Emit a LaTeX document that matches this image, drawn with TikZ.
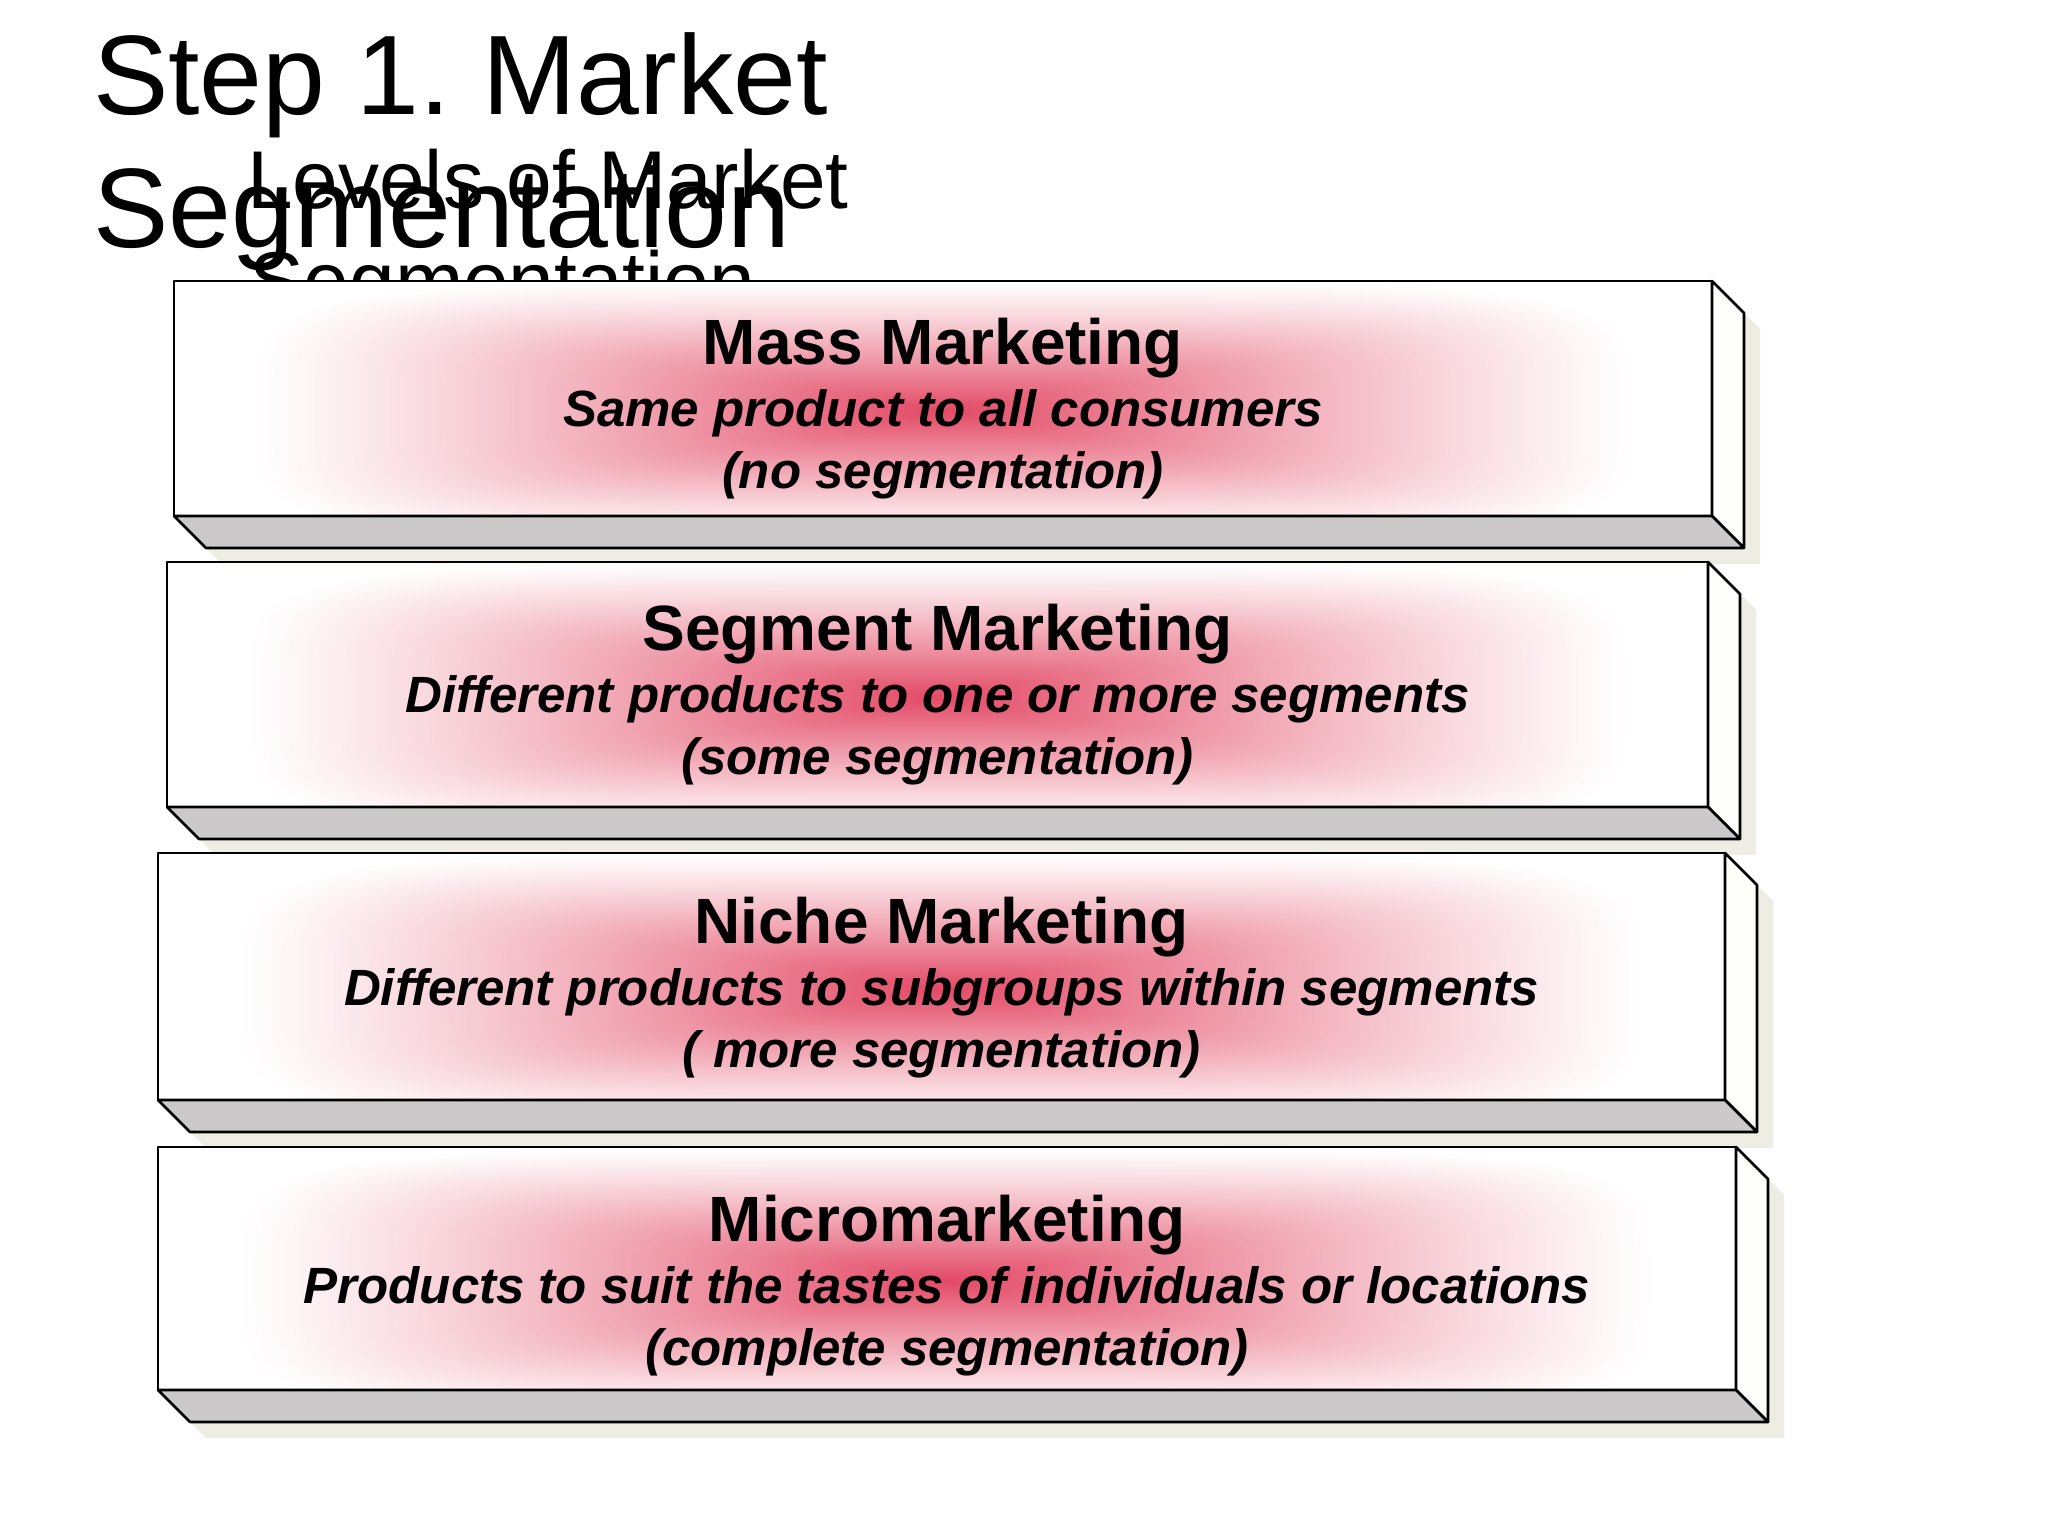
\documentclass[tikz,border=0pt]{standalone}
\usepackage{fontspec}
\setmainfont{Liberation Sans}
\usetikzlibrary{calc}

\definecolor{shadowgray}{HTML}{EDEDE4}
\definecolor{floorgray}{HTML}{CBC9CA}
\definecolor{wallcream}{HTML}{FEFEFA}

% rectangular glow from the centre of a box (softened corners of the glow)
\pgfdeclarefunctionalshading{redglow}{\pgfpoint{-50bp}{-50bp}}{\pgfpoint{50bp}{50bp}}{}{
  25 div 0.1 add abs 1.1 div dup dup mul dup mul mul
  exch 25 div abs 0.9 div dup dup mul dup mul mul
  add 0.2 exp
  dup 1 gt {pop 1} if
  1 exch sub 1.15 exp
  dup 0.11 mul 1 exch sub exch
  dup 0.71 mul 1 exch sub exch
  0.60 mul 1 exch sub
}

\def\dep{32}
\tikzset{%
  % Specifications for style of nodes:
       heading/.style = {inner sep=0, font=\fontsize{113}{133}\selectfont},
    subheading/.style = {inner sep=0, font=\fontsize{82}{100}\selectfont},
          face/.style = {draw=black, line width=2.6pt, line join=round},
      frontbox/.style = {face, rectangle, shading=redglow, inner sep=0, outer sep=0},
       boxtext/.style = {inner sep=0, align=center,
                         font=\fontsize{51}{62}\selectfont\bfseries\itshape},
}
\newcommand{\titlesize}{\fontsize{64}{62}\selectfont\upshape}

% name, left, bottom, right, top, title, first line, second line, text shift
\newcommand{\levelbox}[9]{%
  \fill[shadowgray, shift={(16,-16)}] (#2,#5) -- (#4,#5) -- ++(\dep,-\dep)
    -- (#4+\dep,#3-\dep) -- (#2+\dep,#3-\dep) -- (#2,#3) -- cycle;
  \node (#1) [frontbox, minimum width=#4pt-#2pt, minimum height=#5pt-#3pt]
    at ({(#2+#4)/2},{(#3+#5)/2}) {};
  \draw[face, fill=wallcream] (#1.north east) -- ++(\dep,-\dep)
    -- ([shift={(\dep,-\dep)}]#1.south east) -- (#1.south east) -- cycle;
  \draw[face, fill=floorgray] (#1.south west) -- (#1.south east) -- ++(\dep,-\dep)
    -- ([shift={(\dep,-\dep)}]#1.south west) -- cycle;
  \node (#1-text) [boxtext] at ([yshift=#9pt]#1.center) {{\titlesize #6}\\#7\\#8};
}

\begin{document}
\frenchspacing
\begin{tikzpicture}[x=1pt, y=1pt]
  \useasboundingbox[fill=white] (0,0) rectangle (2048,1536);

  % headings
  \node (sub1)   [subheading, anchor=base west] at (247,1327) {Levels of Market};
  \node (sub2)   [subheading, anchor=base west] at (249,1226) {Segmentation};
  \node (title1) [heading, anchor=base west] at (93,1421) {Step 1. Market};
  \node (title2) [heading, anchor=base west] at (93,1288) {Segmentation};

  % the four levels
  \levelbox{mass}{174}{1020}{1712}{1255}{Mass Marketing}
    {Same product to all consumers}{(no segmentation)}{-10}
  \levelbox{segment}{167}{729}{1708}{974}{Segment Marketing}
    {Different products to one or more segments}{(some segmentation)}{-10}
  \levelbox{niche}{158}{436}{1725}{683}{Niche Marketing}
    {Different products to subgroups within segments}{( more segmentation)}{-11}
  \levelbox{micro}{158}{146}{1736}{389}{Micromarketing}
    {Products to suit the tastes of individuals or locations}{(complete segmentation)}{-17}
\end{tikzpicture}
\end{document}
